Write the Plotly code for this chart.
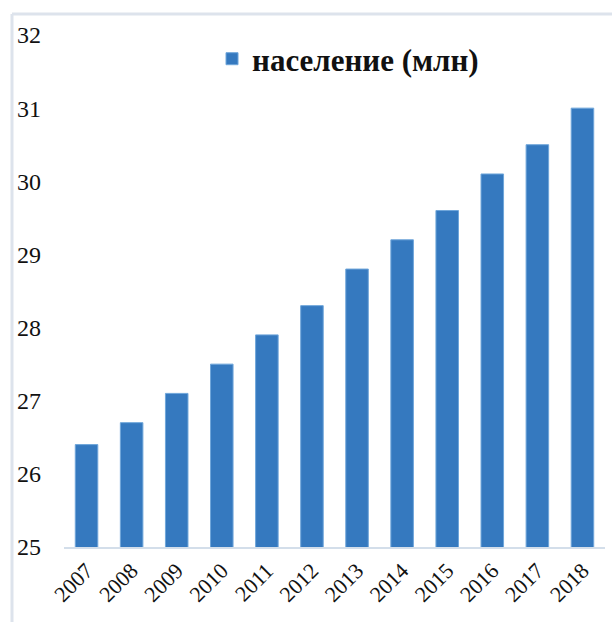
import plotly.graph_objects as go

years = ["2007", "2008", "2009", "2010", "2011", "2012",
         "2013", "2014", "2015", "2016", "2017", "2018"]
population = [26.4, 26.7, 27.1, 27.5, 27.9, 28.3, 28.8, 29.2, 29.6, 30.1, 30.5, 31.0]
series_name = "население (млн)"
y_ticks = [25, 26, 27, 28, 29, 30, 31, 32]

SERIF = "Liberation Serif, Times New Roman, serif"

fig = go.Figure()
fig.add_trace(go.Bar(
    x=years, y=population, name=series_name,
    marker=dict(color="#3579BF", line=dict(color="#6FA6DA", width=1)),
))

fig.update_layout(
    width=612, height=622,
    margin=dict(l=64, r=7, t=35, b=75),
    paper_bgcolor="white", plot_bgcolor="white",
    bargap=0.5,
    showlegend=True,
    legend=dict(
        x=0.525, y=0.953, xanchor="center", yanchor="middle",
        orientation="h",
        font=dict(family=SERIF, size=31, color="#111111", weight="bold"),
        bgcolor="rgba(0,0,0,0)",
    ),
    font=dict(family=SERIF, color="#111111"),
)
fig.update_xaxes(
    type="category", tickangle=-45,
    tickfont=dict(family=SERIF, size=22, color="#111111"),
    showline=True, linecolor="#D3DEEA", linewidth=2,
    showgrid=False, ticks="",
)
fig.update_yaxes(
    range=[25, 32], tickvals=y_ticks,
    tickfont=dict(family=SERIF, size=24, color="#111111"),
    showgrid=False, zeroline=False, showline=False, ticks="",
    ticklabelstandoff=22,
)
# outer frame (left and top edges visible in reference)
fig.add_shape(type="line", xref="paper", yref="paper",
              x0=-52 / 541, x1=-52 / 541, y0=-75 / 512, y1=(35 - 14) / 512 + 1,
              line=dict(color="#DDE3EC", width=3))
fig.add_shape(type="line", xref="paper", yref="paper",
              x0=-52 / 541, x1=1.02, y0=(35 - 14) / 512 + 1, y1=(35 - 14) / 512 + 1,
              line=dict(color="#DDE3EC", width=3))

fig.write_html("out.html")
